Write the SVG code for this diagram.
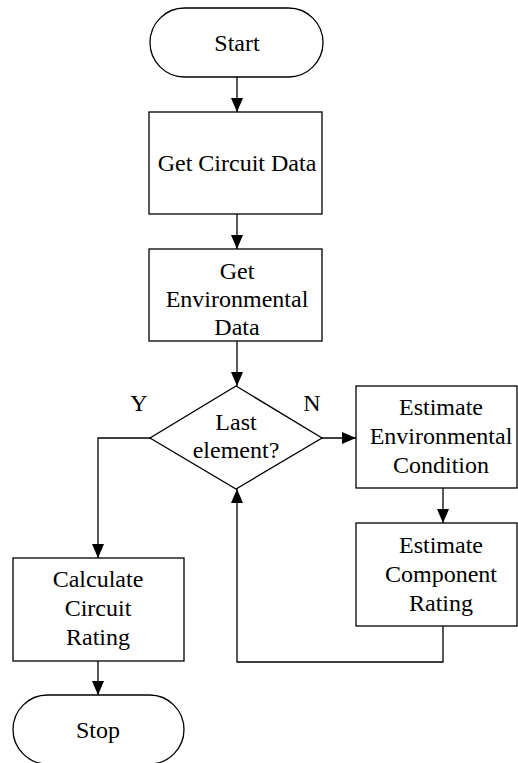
<svg xmlns="http://www.w3.org/2000/svg" width="518" height="763" viewBox="0 0 518 763">
<defs>
<marker id="ah" markerWidth="14" markerHeight="12" refX="14" refY="6" orient="auto" markerUnits="userSpaceOnUse">
<path d="M0,0 L14,6 L0,12 Z" fill="#000"/>
</marker>
<style>
.s{fill:#fff;stroke:#000;stroke-width:1.3}
.c{fill:none;stroke:#000;stroke-width:1.3;marker-end:url(#ah)}
.t{font-size:24px;fill:#000;text-anchor:middle}
</style>
</defs>
<rect width="518" height="763" fill="#fff"/>
<g id="connectors">
<path class="c" d="M237,77 V112"/>
<path class="c" d="M237,214 V249"/>
<path class="c" d="M237,341 V386"/>
<path class="c" d="M322,438 H356"/>
<path class="c" d="M443,488 V523"/>
<path class="c" d="M443,626 V662 H237 V489"/>
<path class="c" d="M150,438 H98 V558"/>
<path class="c" d="M98,661 V695"/>
</g>
<g font-family="'Liberation Serif', 'DejaVu Serif', serif">
<g id="start">
<rect class="s" x="150" y="8" width="173" height="69" rx="34.5" ry="34.5"/>
<text class="t" x="237" y="51">Start</text>
</g>
<g id="get-circuit-data">
<rect class="s" x="149" y="112" width="173" height="102"/>
<text class="t" x="237" y="171">Get Circuit Data</text>
</g>
<g id="get-environmental-data">
<rect class="s" x="149" y="249" width="173" height="92"/>
<text class="t" x="237" y="279">Get</text>
<text class="t" x="237" y="307">Environmental</text>
<text class="t" x="237" y="335">Data</text>
</g>
<g id="last-element">
<polygon class="s" points="236,386 322,438 236,489 150,438"/>
<text class="t" x="236" y="430">Last</text>
<text class="t" x="236" y="458">element?</text>
</g>
<g id="labels">
<text class="t" x="139" y="411">Y</text>
<text class="t" x="312" y="411">N</text>
</g>
<g id="estimate-environmental-condition">
<rect class="s" x="356" y="386" width="161" height="102"/>
<text class="t" x="441" y="415">Estimate</text>
<text class="t" x="441" y="444">Environmental</text>
<text class="t" x="441" y="473">Condition</text>
</g>
<g id="estimate-component-rating">
<rect class="s" x="356" y="523" width="161" height="103"/>
<text class="t" x="441" y="553">Estimate</text>
<text class="t" x="441" y="582">Component</text>
<text class="t" x="441" y="611">Rating</text>
</g>
<g id="calculate-circuit-rating">
<rect class="s" x="13" y="558" width="171" height="103"/>
<text class="t" x="98" y="587">Calculate</text>
<text class="t" x="98" y="616">Circuit</text>
<text class="t" x="98" y="645">Rating</text>
</g>
<g id="stop">
<rect class="s" x="13" y="695" width="171" height="69" rx="34.5" ry="34.5"/>
<text class="t" x="98" y="738">Stop</text>
</g>
</g>
</svg>
